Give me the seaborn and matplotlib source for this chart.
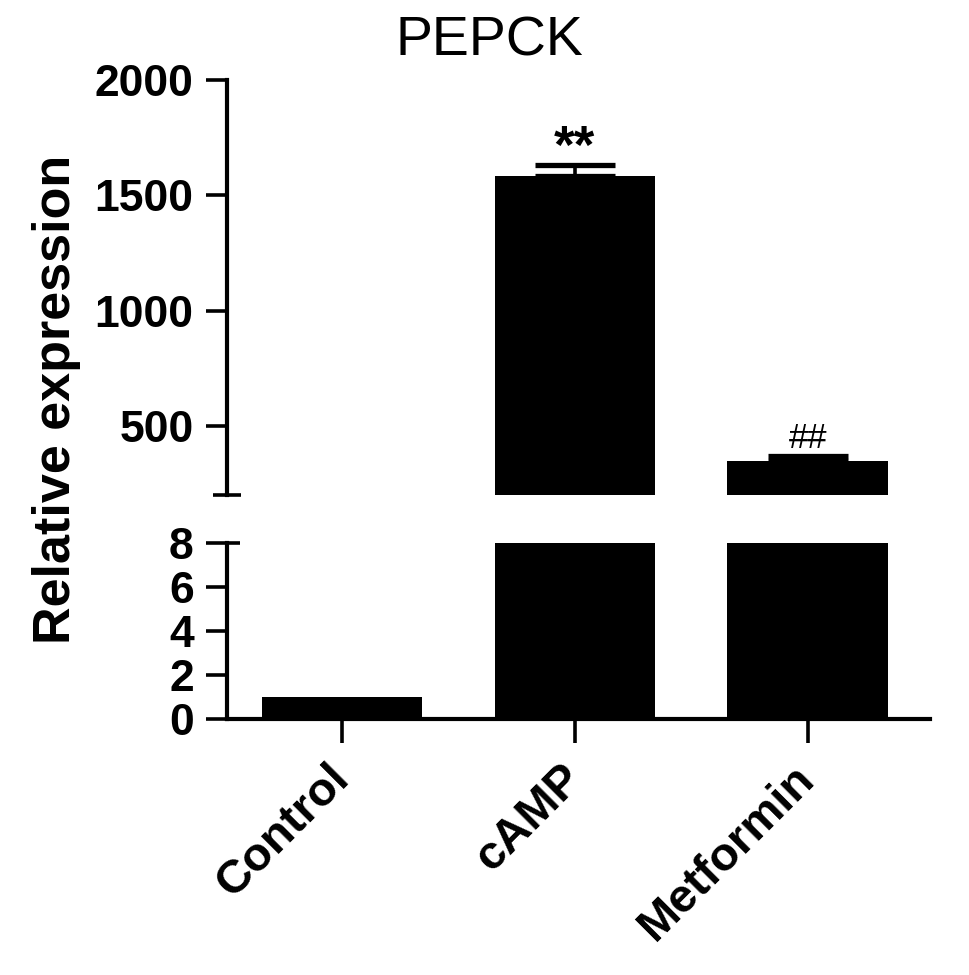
import numpy as np
import pandas as pd
import matplotlib
matplotlib.use("Agg")
import matplotlib.pyplot as plt
import seaborn as sns

# ---- data ----
categories = ["Control", "cAMP", "Metformin"]
means = [1.0, 1585.0, 348.0]
sems = [0.0, 45.0, 20.0]
upper_ticks = [500, 1000, 1500, 2000]
lower_ticks = [0, 2, 4, 6, 8]
marks = ["", "**", "##"]
title = "PEPCK"
ylabel = "Relative expression"

sns.set_style("ticks")
plt.rcParams["font.family"] = ["Liberation Sans", "DejaVu Sans"]
for k in ("text.color", "axes.labelcolor", "xtick.color", "ytick.color", "axes.edgecolor"):
    plt.rcParams[k] = "black"

df = pd.DataFrame({"group": categories, "value": means})

W, H = 969, 975
fig = plt.figure(figsize=(W / 100, H / 100), dpi=100)
left, right = 227, 930
ax_top = fig.add_axes([left / W, 1 - 495 / H, (right - left) / W, (495 - 80) / H])
ax_bot = fig.add_axes([left / W, 1 - 719 / H, (right - left) / W, (719 - 543) / H])

LW = 3.0
FS = 32
for ax in (ax_top, ax_bot):
    sns.barplot(data=df, x="group", y="value", order=categories, color="black",
                saturation=1, width=0.69, errorbar=None, ax=ax, linewidth=0)
    ax.set_xlim(-0.494, 2.525)
    ax.set_xlabel("")
    ax.set_ylabel("")
    for s in ("top", "right"):
        ax.spines[s].set_visible(False)
    for s in ("left", "bottom"):
        ax.spines[s].set_linewidth(LW)
        ax.spines[s].set_color("black")
    ax.tick_params(axis="y", which="major", direction="out", length=15, width=2.6,
                   pad=9, labelsize=FS, colors="black")

# error bars (upper segment only; control error is not visible)
ax_top.errorbar(x=np.arange(len(categories)), y=means,
                yerr=[np.zeros(len(sems)), sems], fmt="none", ecolor="black",
                elinewidth=2.6, capsize=29, capthick=3.8, zorder=3)

# upper segment
ax_top.set_ylim(200, 2000)
ax_top.set_yticks(upper_ticks)
ax_top.set_yticklabels([str(t) for t in upper_ticks], fontsize=FS, fontweight="bold")
ax_top.set_yticks([200], minor=True)
ax_top.tick_params(axis="y", which="minor", direction="inout", length=19.5, width=2.6)
ax_top.spines["bottom"].set_visible(False)
ax_top.set_xticks([])

# lower segment
ax_bot.set_ylim(0, 8)
ax_bot.set_yticks(lower_ticks)
ax_bot.set_yticklabels([str(t) for t in lower_ticks], fontsize=FS, fontweight="bold")
ax_bot.yaxis.remove_overlapping_locs = False
ax_bot.set_yticks([8], minor=True)
ax_bot.tick_params(axis="y", which="minor", direction="in", length=9.5, width=2.6)
ax_bot.set_xticks(range(len(categories)))
ax_bot.set_xticklabels(categories, rotation=45, ha="right", va="center",
                       rotation_mode="anchor", fontsize=34, fontweight="bold")
ax_bot.tick_params(axis="x", direction="out", length=17, width=2.6, pad=21, colors="black")

# significance marks
for i, m in enumerate(marks):
    if not m:
        continue
    if m == "**":
        ax_top.text(i, means[i] + sems[i] + 10, m, ha="center", va="baseline",
                    fontsize=38, fontweight="bold")
    else:
        ax_top.text(i, means[i] + sems[i] + 35, m, ha="center", va="baseline",
                    fontsize=25)

fig.text(489 / W, 1 - 42 / H, title, ha="center", va="center", fontsize=40)
fig.text(57 / W, 1 - 399 / H, ylabel, ha="center", va="center", rotation=90,
         fontsize=37.5, fontweight="bold")

fig.savefig("out.png", dpi=100, facecolor="white")
